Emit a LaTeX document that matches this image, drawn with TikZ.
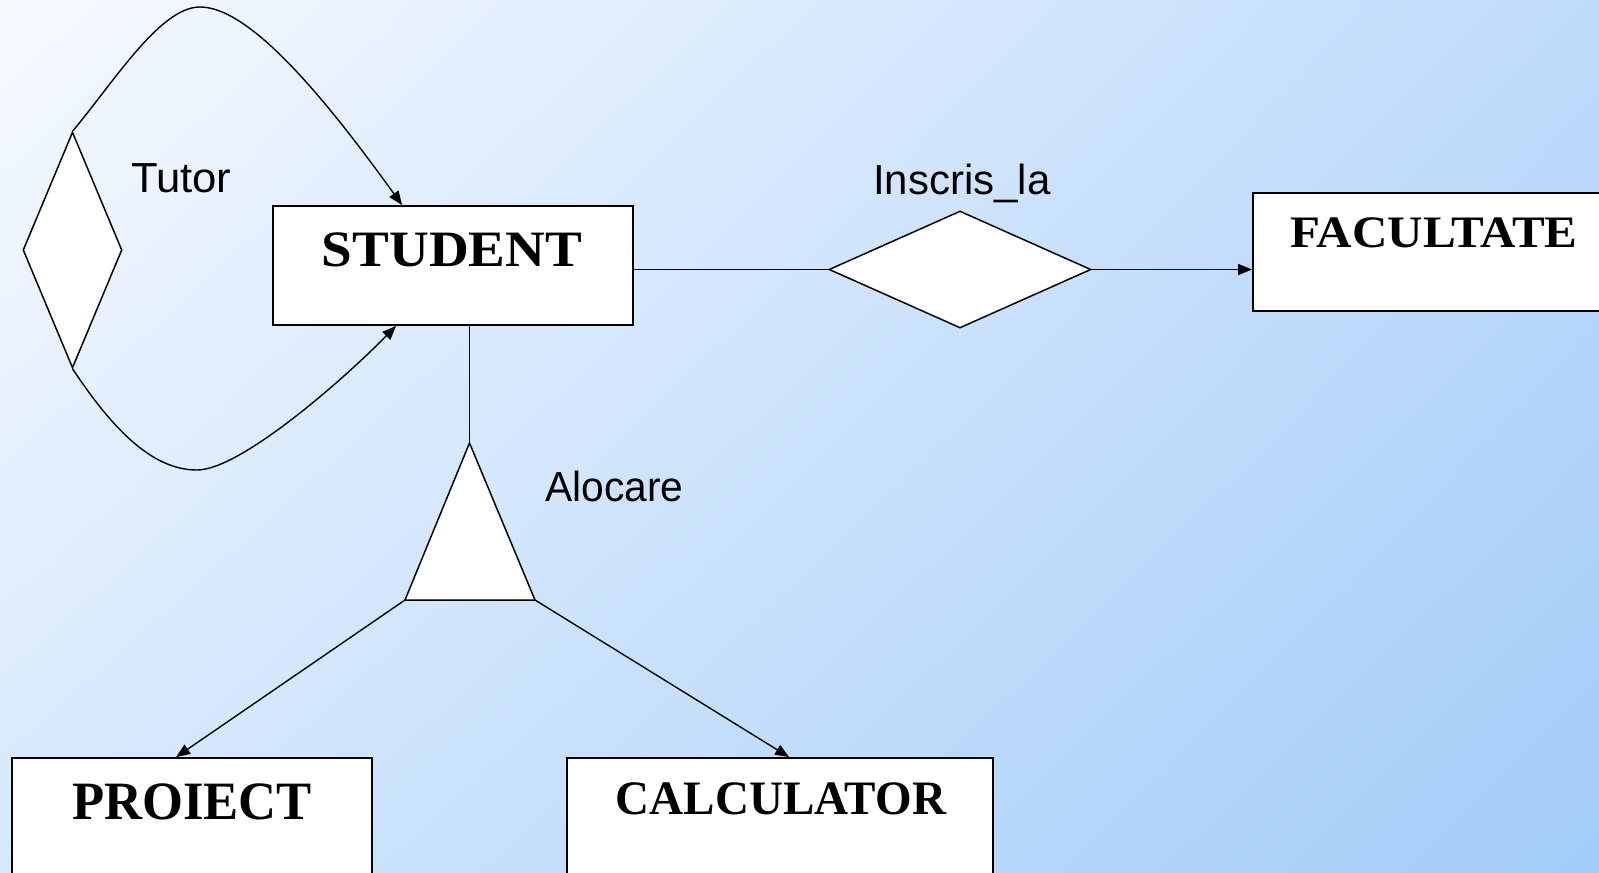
\documentclass[tikz,border=0pt]{standalone}
\usepackage{fontspec}
\setmainfont{Liberation Serif}
\setsansfont{Liberation Sans}
\usepackage{graphicx}
\usetikzlibrary{arrows.meta,shapes.geometric,calc,shadings}

\definecolor{bgUL}{HTML}{F7FAFF}
\definecolor{bgUR}{HTML}{BFDBFB}
\definecolor{bgLL}{HTML}{D6E8FD}
\definecolor{bgLR}{HTML}{A2CCF8}

% entity title: horizontal stretch, font size, text
\newcommand\entname[3]{\scalebox{#1}[1]{\fontsize{#2}{#2}\selectfont\bfseries #3}}

\tikzset{
  entity/.style={draw=black, line width=1.8pt, fill=white, rectangle, inner sep=0pt},
  relshape/.style={draw=black, line width=1.5pt, fill=white, diamond, inner sep=0pt},
  link/.style={draw=black, line width=1.4pt},
  arr/.style={link, -{Triangle[length=14pt,width=11pt]}},
  enttext/.style={anchor=base, inner sep=0pt},
  reltext/.style={anchor=base west, inner sep=0pt, font=\sffamily\fontsize{42}{50}\selectfont},
}

\begin{document}
\begin{tikzpicture}[x=1pt,y=-1pt]
  % background
  \shade[upper left=bgUL, upper right=bgUR, lower left=bgLL, lower right=bgLR]
    (0pt,0pt) rectangle (1599pt,-873pt);
  \useasboundingbox (0pt,0pt) rectangle (1599pt,-873pt);
  \clip (0pt,0pt) rectangle (1599pt,-873pt);

  % entities
  \node[entity, minimum width=360pt, minimum height=119pt] (student) at (453,265.5) {};
  \node[entity, minimum width=387pt, minimum height=118pt] (facultate) at (1446.5,252) {};
  \node[entity, minimum width=360pt, minimum height=142pt] (proiect) at (192,829) {};
  \node[entity, minimum width=426pt, minimum height=142pt] (calculator) at (780,829) {};

  \node[enttext] (studenttxt) at (452,266) {\entname{1.08}{51}{STUDENT}};
  \node[enttext] (facultatetxt) at (1434,247) {\entname{1.09}{45}{FACULTATE}};
  \node[enttext] (proiecttxt) at (192,819) {\entname{0.975}{54}{PROIECT}};
  \node[enttext] (calculatortxt) at (781,814) {\entname{0.98}{48}{CALCULATOR}};

  % relationships
  \node[relshape, minimum width=99pt, minimum height=236pt] (tutor) at (72.5,250) {};
  \node[relshape, minimum width=262pt, minimum height=117pt] (inscris) at (960,269.5) {};

  \coordinate (atop) at (469.5,443);
  \coordinate (abl) at (405,600);
  \coordinate (abr) at (535,600);

  % connectors
  \coordinate (sttop) at ($(student.north west)+(130,0)$);
  \coordinate (stbot) at ($(student.south west)+(124,0)$);
  \draw[arr] (tutor.north) .. controls (114,82) and (160,7) .. (200,7)
             .. controls (250,7) and (325,98) .. (sttop);
  \draw[arr] (tutor.south) .. controls (110,425) and (150,470) .. (197,470)
             .. controls (240,470) and (342,381) .. (stbot);

  \draw[link] (student.east |- inscris.west) -- (inscris.west);
  \draw[arr] (inscris.east) -- (inscris.east -| facultate.west);

  \draw[link] (atop |- student.south) -- (atop);
  \draw[link, fill=white, line width=1.5pt] (atop) -- (abl) -- (abr) -- cycle;
  \draw[arr] (abl) -- ($(proiect.north west)+(165,0)$);
  \draw[arr] (abr) -- ($(calculator.north west)+(223,0)$);

  % labels
  \node[reltext] (tutorlbl) at (131,192) {\scalebox{1.04}[1]{Tutor}};
  \node[reltext] (inscrislbl) at (873,194) {Inscris\_la};
  \node[reltext] (alocarelbl) at (545,501) {\scalebox{0.97}[1]{Alocare}};
\end{tikzpicture}
\end{document}
